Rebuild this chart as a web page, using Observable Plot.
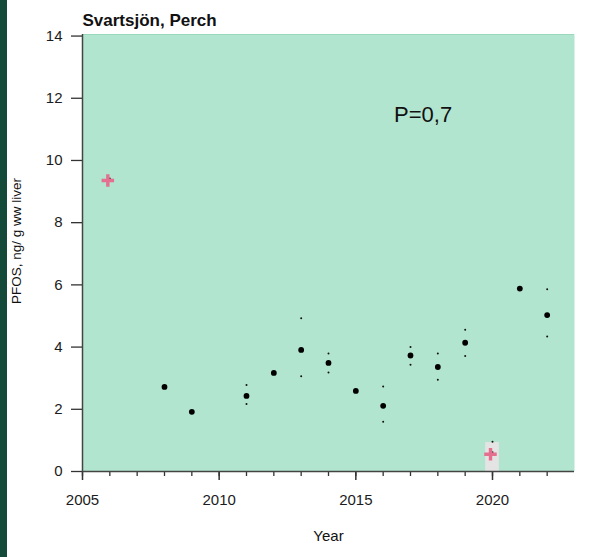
<!DOCTYPE html>
<html>
<head>
<meta charset="utf-8">
<script src="https://cdn.jsdelivr.net/npm/d3@7"></script>
<script src="https://cdn.jsdelivr.net/npm/@observablehq/plot@0.6"></script>
<style>
  body { margin: 0; background: #fff; }
  #wrap { position: relative; width: 596px; height: 557px; overflow: hidden; }
  #strip { position: absolute; left: 0; top: 0; width: 7px; height: 557px; background: #134a3a; }
  #chart { position: absolute; left: 0; top: 0; }
</style>
</head>
<body>
<div id="wrap"><div id="chart"></div><div id="strip"></div></div>
<script>
// ---- data ----
const title = "Svartsjön, Perch";
const yLabel = "PFOS, ng/ g ww liver";
const xLabel = "Year";
const pText = "P=0,7";

const years      = [2008, 2009, 2011, 2012, 2013, 2014, 2015, 2016, 2017, 2018, 2019, 2021, 2022];
const means      = [2.72, 1.92, 2.43, 3.17, 3.91, 3.49, 2.59, 2.11, 3.73, 3.36, 4.14, 5.88, 5.03];

const rangeYears = [2011, 2013, 2014, 2016, 2017, 2018, 2019, 2022, 2020];
const rangeHigh  = [2.78, 4.93, 3.79, 2.73, 4.00, 3.79, 4.56, 5.86, 0.96];
const rangeLow   = [2.17, 3.06, 3.18, 1.60, 3.43, 2.95, 3.71, 4.34, null];

const outlierYears  = [2006, 2020];
const outlierValues = [9.42, 0.62];

const lodYears  = [2020];
const lodValues = [0.93];

const yTicks      = [0, 2, 4, 6, 8, 10, 12, 14];
const xMajorTicks = [2005, 2010, 2015, 2020];
const xMinorTicks = [2005, 2006, 2007, 2008, 2009, 2010, 2011, 2012, 2013, 2014, 2015, 2016, 2017, 2018, 2019, 2020, 2021, 2022];

const pPos = {x: 2016.4, y: 11.45};

// ---- tables built from arrays ----
const meanData = years.map((x, i) => ({x, y: means[i]}));
const rangeData = [];
rangeYears.forEach((x, i) => {
  if (rangeHigh[i] != null) rangeData.push({x, y: rangeHigh[i]});
  if (rangeLow[i] != null) rangeData.push({x, y: rangeLow[i]});
});
const outData = outlierYears.map((x, i) => ({x, y: outlierValues[i]}));
const lodData = lodYears.map((x, i) => ({x1: x - 0.25, x2: x + 0.25, y: lodValues[i]}));

const font = "'Liberation Sans', Arial, sans-serif";
const ink = "#1b1b22";
const pink = "#e46f8f";

const chart = Plot.plot({
  width: 596,
  height: 557,
  marginLeft: 82,
  marginRight: 22,
  marginTop: 34,
  marginBottom: 86,
  style: {fontFamily: font, fontSize: "15px", color: ink, background: "transparent"},
  x: {domain: [2005, 2023]},
  y: {domain: [0, 14.05]},
  marks: [
    Plot.frame({fill: "#b2e5cf", stroke: null}),
    Plot.ruleY([14.05], {stroke: "#98d9bc", strokeWidth: 1.2}),
    Plot.rect(lodData, {x1: "x1", x2: "x2", y1: 0, y2: "y", fill: "#e4e4e4"}),
    Plot.dot(rangeData, {x: "x", y: "y", r: 1, fill: "#111", stroke: null}),
    Plot.dot(meanData, {x: "x", y: "y", r: 2.9, fill: "#000", stroke: null}),
    Plot.dot(outData, {x: "x", y: "y", r: 1, fill: "#222", stroke: null}),
    Plot.dot(outData, {x: "x", y: "y", symbol: "plus", r: 4.1, stroke: pink, strokeWidth: 3.4, strokeLinecap: "butt", dx: -2, dy: 2}),
    Plot.axisY({ticks: yTicks, tickSize: 11, tickPadding: 9, label: null, fontSize: 15, stroke: "#333", strokeWidth: 1.3}),
    Plot.axisX({ticks: xMinorTicks, tickSize: 5, tickFormat: () => "", label: null, stroke: "#333", strokeWidth: 1.3}),
    Plot.axisX({ticks: xMajorTicks, tickSize: 9, tickPadding: 14, tickFormat: d => String(d), label: null, fontSize: 15, stroke: "#333", strokeWidth: 1.5}),
    Plot.ruleX([2005], {stroke: "#444", strokeWidth: 1.5}),
    Plot.ruleY([0], {stroke: "#444", strokeWidth: 1.5}),
    Plot.text([title], {frameAnchor: "top-left", textAnchor: "start", lineAnchor: "middle", dy: -14, fontWeight: "bold", fontSize: 17, fill: "#111"}),
    Plot.text([yLabel], {frameAnchor: "left", textAnchor: "middle", lineAnchor: "middle", rotate: -90, dx: -66, dy: -12, fontSize: 13.5, fill: "#111"}),
    Plot.text([xLabel], {frameAnchor: "bottom", lineAnchor: "middle", dy: 65, fontSize: 15, fill: "#111"}),
    Plot.text([pText], {x: () => pPos.x, y: () => pPos.y, textAnchor: "start", lineAnchor: "middle", fontSize: 22, fill: "#111"})
  ]
});
document.getElementById("chart").appendChild(chart);
</script>
</body>
</html>
